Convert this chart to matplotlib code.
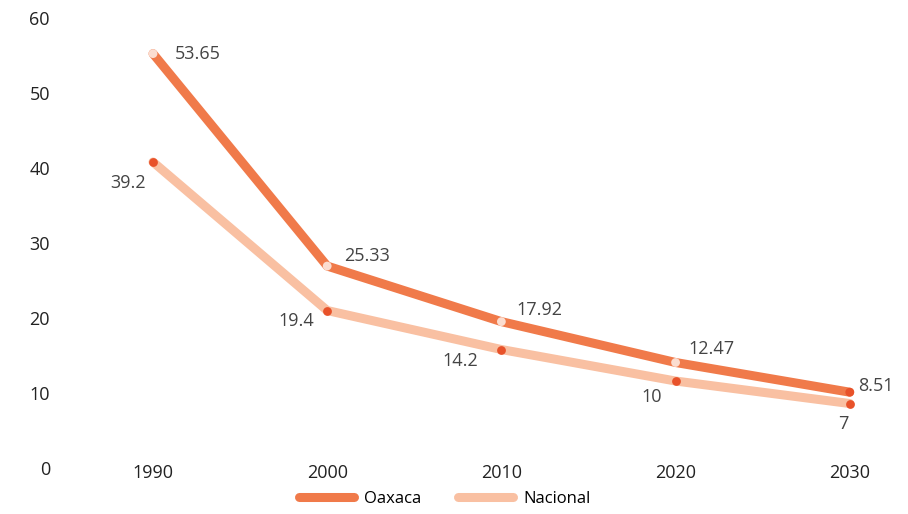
import matplotlib.pyplot as plt
import numpy as np

years = ['1990', '2000', '2010', '2020', '2030']
oaxaca = [53.65, 25.33, 17.92, 12.47, 8.51]
nacional = [39.2, 19.4, 14.2, 10, 7]
yticks = [0, 10, 20, 30, 40, 50, 60]

oax_color = '#F07A4A'
nac_color = '#F9C0A2'
dark_dot = '#E8522A'
light_dot = '#FBDDD0'

# label offsets in pixels (dx, dy, ha)
oax_offsets = [(22, 0, 'left'), (17, 10, 'left'), (15, 12, 'left'),
               (13, 13, 'left'), (8, 6, 'left')]
nac_offsets = [(-7, -21, 'right'), (-13, -10, 'right'), (-23, -11, 'right'),
               (-14, -16, 'right'), (-1, -20, 'right')]

plt.rcParams['font.family'] = ['Open Sans', 'DejaVu Sans']

fig = plt.figure(figsize=(9.08, 5.14), dpi=100)
ax = fig.add_axes([0.0726, 0.1128, 0.9208, 0.8755])

x = np.arange(len(years))

ax.plot(x, nacional, color=nac_color, lw=6.5, solid_capstyle='round',
        solid_joinstyle='round', zorder=2, label='Nacional')
ax.plot(x, oaxaca, color=oax_color, lw=6.5, solid_capstyle='round',
        solid_joinstyle='round', zorder=3, label='Oaxaca')

oax_dots = [light_dot] * (len(x) - 1) + [dark_dot]
ax.scatter(x, oaxaca, s=40, color=oax_dots, zorder=4, linewidths=0)
ax.scatter(x, nacional, s=40, color=dark_dot, zorder=4, linewidths=0)

for xi, v, (dx, dy, ha) in zip(x, oaxaca, oax_offsets):
    ax.annotate(f'{v:g}', (xi, v), xytext=(dx, dy), textcoords='offset pixels',
                ha=ha, va='center', fontsize=13, color='#444444')
for xi, v, (dx, dy, ha) in zip(x, nacional, nac_offsets):
    ax.annotate(f'{v:g}', (xi, v), xytext=(dx, dy), textcoords='offset pixels',
                ha=ha, va='center', fontsize=13, color='#444444')

# y labels sit a bit lower than their gridline values in the original
ax.set_yticks([])
for t in yticks:
    ax.annotate(str(t), (0, t), xycoords=ax.get_yaxis_transform(),
                xytext=(-16, -14), textcoords='offset pixels',
                ha='right', va='center', fontsize=13, color='#222222',
                annotation_clip=False)

ax.set_xticks(x, years)
ax.tick_params(axis='x', length=0, pad=6, labelsize=13, labelcolor='#222222')
ax.set_xlim(-0.5, 4.3)
ax.set_ylim(0, 60)
for s in ax.spines.values():
    s.set_visible(False)

h, l = ax.get_legend_handles_labels()
fig.legend(h[::-1], l[::-1], loc='center', bbox_to_anchor=(0.49, 0.029),
           ncol=2, frameon=False, fontsize=12, handlelength=3.3,
           columnspacing=2.2, handletextpad=0.6)

fig.savefig('out.png', dpi=100)
